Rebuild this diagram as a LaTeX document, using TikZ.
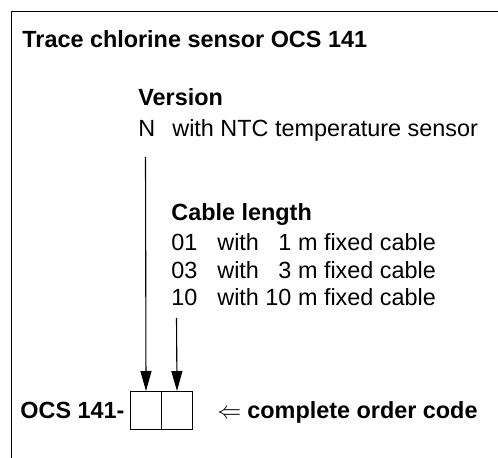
\documentclass[tikz,border=0pt]{standalone}
\usepackage{fontspec}
\setmainfont{Liberation Sans}
\usetikzlibrary{arrows.meta}
\tikzset{
  lbl/.style={anchor=base west,inner sep=0pt,font=\fontsize{11.7}{14}\selectfont},
  hd/.style={lbl,font=\fontsize{11.7}{14}\selectfont\bfseries},
  codebox/.style={draw,line width=0.5pt,anchor=north west,minimum width=15.5pt,minimum height=19pt,inner sep=0pt},
  pick/.style={-{Triangle[length=10pt,width=5.5pt]},line width=0.55pt}
}
\begin{document}
\begin{tikzpicture}[x=0.5pt,y=-0.5pt]
  \useasboundingbox (0,0) rectangle (498,458);
  \draw[line width=0.8pt] (11.5,458) -- (11.5,11.5) -- (498,11.5);
  \node[hd] (title) at (22,48) {Trace chlorine sensor OCS 141};
  \node[hd] (version) at (138,106) {Version};
  \node[lbl] (verN) at (138,137) {N};
  \node[lbl] (verNTC) at (172,137) {with NTC temperature sensor};
  \node[hd] (cable) at (171,221) {Cable length};
  \foreach \code/\len/\y in {01/1/251,03/3/279,10/10/306}{
    \node[lbl] (len\code) at (171,\y) {\code};
    \node[lbl] (lentxt\code) at (217,\y) {with \makebox[1.112em][r]{\len} m fixed cable};
  }
  \node[codebox] (box1) at (130,391) {};
  \node[codebox] (box2) at (161,391) {};
  \node[hd] (prefix) at (20,419) {OCS 141-};
  \node[hd] (order) at (217,419) {{\fontsize{12.5}{14}\selectfont$\Leftarrow$}\hspace{3pt}complete order code};
  \coordinate (vsrc) at (145.5,157);
  \coordinate (csrc) at (176.5,318);
  \draw[pick] (vsrc) -- (box1.north);
  \draw[pick] (csrc) -- (box2.north);
\end{tikzpicture}
\end{document}
